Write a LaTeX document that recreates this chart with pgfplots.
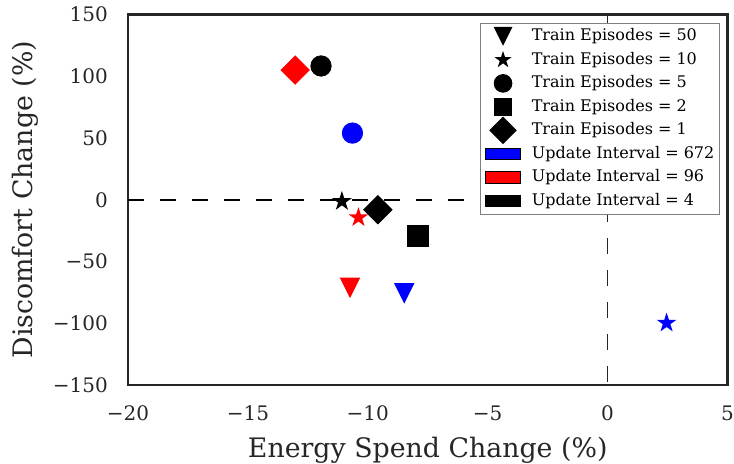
\documentclass[border=0pt]{standalone}
\usepackage{fontspec}
\setmainfont{DejaVu Serif}
\usepackage{pgfplots}
\pgfplotsset{compat=1.18}
\usetikzlibrary{calc}

% downward triangle, as wide as it is tall
\pgfdeclareplotmark{tridown}{%
  \pgfpathmoveto{\pgfqpoint{0pt}{-\pgfplotmarksize}}%
  \pgfpathlineto{\pgfqpoint{\pgfplotmarksize}{\pgfplotmarksize}}%
  \pgfpathlineto{\pgfqpoint{-\pgfplotmarksize}{\pgfplotmarksize}}%
  \pgfpathclose\pgfusepathqfill}

% filled five-pointed star
\pgfdeclareplotmark{fivestar}{%
  \pgfpathmoveto{\pgfqpoint{0pt}{\pgfplotmarksize}}%
  \pgfpathlineto{\pgfqpoint{-0.2245\pgfplotmarksize}{0.3090\pgfplotmarksize}}%
  \pgfpathlineto{\pgfqpoint{-0.9511\pgfplotmarksize}{0.3090\pgfplotmarksize}}%
  \pgfpathlineto{\pgfqpoint{-0.3633\pgfplotmarksize}{-0.1180\pgfplotmarksize}}%
  \pgfpathlineto{\pgfqpoint{-0.5878\pgfplotmarksize}{-0.8090\pgfplotmarksize}}%
  \pgfpathlineto{\pgfqpoint{0pt}{-0.3820\pgfplotmarksize}}%
  \pgfpathlineto{\pgfqpoint{0.5878\pgfplotmarksize}{-0.8090\pgfplotmarksize}}%
  \pgfpathlineto{\pgfqpoint{0.3633\pgfplotmarksize}{-0.1180\pgfplotmarksize}}%
  \pgfpathlineto{\pgfqpoint{0.9511\pgfplotmarksize}{0.3090\pgfplotmarksize}}%
  \pgfpathlineto{\pgfqpoint{0.2245\pgfplotmarksize}{0.3090\pgfplotmarksize}}%
  \pgfpathclose\pgfusepathqfill}

\definecolor{axisgray}{HTML}{262626}

% legend marker whose size does not change the row height
\pgfplotsset{
  fixed mark legend/.style={
    legend image code/.code={%
      \path[draw=none, fill=none] (0cm,-0.1cm) rectangle (0.6cm,0.1cm);
      \draw[overlay, mark repeat=2, mark phase=2, ##1]
        plot coordinates {(0cm,0cm) (0.3cm,0cm) (0.6cm,0cm)};
    },
  },
}

\begin{document}
\begin{tikzpicture}
\begin{axis}[
  name=ax,
  scale only axis,
  width=299.75pt, height=185.25pt,
  xmin=-20, xmax=5, ymin=-150, ymax=150,
  xtick={-20,-15,-10,-5,0,5},
  xticklabels={−20,−15,−10,−5,0,5},
  ytick={-150,-100,-50,0,50,100,150},
  yticklabels={−150,−100,−50,0,50,100,150},
  major tick length=0pt,
  tick label style={font=\fontsize{10}{12}\selectfont, text=axisgray, inner sep=0pt},
  xticklabel style={anchor=base, yshift=-18pt},
  yticklabel style={anchor=east, xshift=-9.85pt},
  axis line style={axisgray, line width=1.25pt},
  xlabel={Energy Spend Change (\%)},
  ylabel={Discomfort Change (\%)},
  label style={font=\fontsize{13.4}{16}\selectfont, text=axisgray},
  xlabel style={at={(axis description cs:0.5,-0.197)}, anchor=base},
  ylabel style={at={(axis description cs:-0.1585,0.5)}, anchor=base, rotate=0},
  legend cell align=left,
  legend style={
    at={(1,1)}, anchor=north east, xshift=-3.75pt, yshift=-4.1pt,
    draw=black!50, line width=0.5pt, fill=white,
    font=\fontsize{8}{9.6}\selectfont,
    inner xsep=2.6pt, inner ysep=2.6pt,
    row sep=3.75pt,
    nodes={inner sep=0pt, text height=6.2pt, text depth=1.8pt},
    /tikz/every odd column/.append style={column sep=5.6pt},
  },
]
% reference lines through the origin
\addplot[forget plot, black, line width=0.9pt, dash pattern=on 8pt off 8pt]
  coordinates {(-20,0) (5,0)};
\addplot[forget plot, axisgray, line width=0.8pt, dash pattern=on 8pt off 8pt]
  coordinates {(0,150) (0,-150)};

% update interval = 672
\addplot[forget plot, only marks, blue, mark=*, mark size=5.1pt] coordinates {(-10.64,54.0)};
\addplot[forget plot, only marks, blue, mark=tridown, mark size=5.1pt] coordinates {(-8.48,-75.8)};
\addplot[forget plot, only marks, blue, mark=fivestar, mark size=5.2pt] coordinates {(2.46,-99.8)};

% update interval = 96
\addplot[forget plot, only marks, red, mark=square*, mark size=5.0pt, mark options={rotate=45}] coordinates {(-13.03,105.0)};
\addplot[forget plot, only marks, red, mark=fivestar, mark size=5.2pt] coordinates {(-10.39,-14.4)};
\addplot[forget plot, only marks, red, mark=tridown, mark size=5.1pt] coordinates {(-10.74,-71.4)};

% update interval = 4
\addplot[forget plot, only marks, black, mark=*, mark size=5.1pt] coordinates {(-11.95,108.3)};
\addplot[forget plot, only marks, black, mark=fivestar, mark size=5.2pt] coordinates {(-11.08,-1.3)};
\addplot[forget plot, only marks, black, mark=square*, mark size=5.0pt, mark options={rotate=45}] coordinates {(-9.58,-8.1)};
\addplot[forget plot, only marks, black, mark=square*, mark size=5.3pt] coordinates {(-7.9,-29.2)};

% legend
\addlegendimage{only marks, black, mark=tridown, mark size=4.7pt, fixed mark legend}
\addlegendentry{Train Episodes = 50}
\addlegendimage{only marks, black, mark=fivestar, mark size=4.5pt, fixed mark legend}
\addlegendentry{Train Episodes = 10}
\addlegendimage{only marks, black, mark=*, mark size=4.4pt, fixed mark legend}
\addlegendentry{Train Episodes = 5}
\addlegendimage{only marks, black, mark=square*, mark size=4.4pt, fixed mark legend}
\addlegendentry{Train Episodes = 2}
\addlegendimage{only marks, black, mark=square*, mark size=4.6pt, mark options={rotate=45}, fixed mark legend}
\addlegendentry{Train Episodes = 1}
\addlegendimage{area legend, fill=blue, draw=black, line width=0.5pt}
\addlegendentry{Update Interval = 672}
\addlegendimage{area legend, fill=red, draw=black, line width=0.5pt}
\addlegendentry{Update Interval = 96}
\addlegendimage{area legend, fill=black, draw=black, line width=0.5pt}
\addlegendentry{Update Interval = 4}
\end{axis}
\pgfresetboundingbox
\path[use as bounding box]
  ($(ax.south west)+(-64pt,-39.5pt)$) rectangle ($(ax.north east)+(3.25pt,7.25pt)$);
\end{tikzpicture}
\end{document}
